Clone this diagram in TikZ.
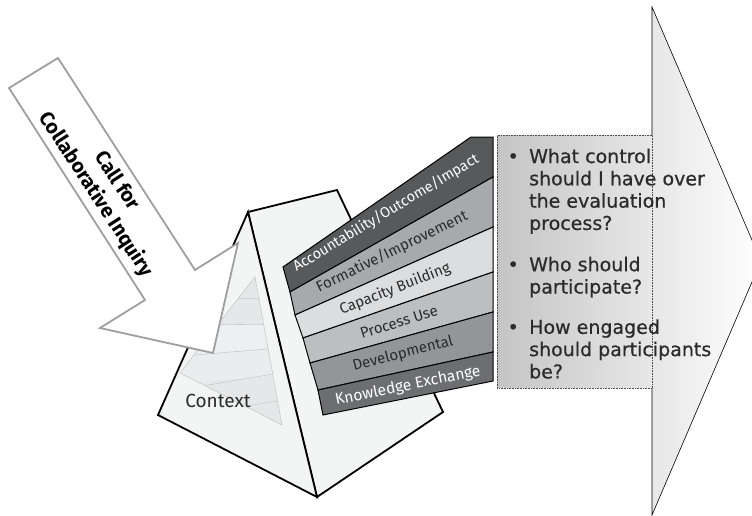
\documentclass[tikz,border=0pt]{standalone}
\usepackage{fontspec}
\setmainfont{Fira Sans}
\newfontfamily\qfont{DejaVu Sans}[FakeBold=0.6]
\usetikzlibrary{calc}
\definecolor{face}{HTML}{F3F4F4}
\definecolor{inner}{HTML}{E6E7E8}
\definecolor{innerlt}{HTML}{EEEFF0}
\definecolor{innerln}{HTML}{C9CACC}
\definecolor{callgray}{HTML}{9D9FA2}
\definecolor{sA}{HTML}{58595B}
\definecolor{sB}{HTML}{A7A9AC}
\definecolor{sC}{HTML}{DCDDDF}
\definecolor{sD}{HTML}{BCBEC0}
\definecolor{sE}{HTML}{939598}
\definecolor{sF}{HTML}{6D6E71}
\definecolor{txtdark}{HTML}{2B2B2B}
\begin{document}
\begin{tikzpicture}[x=1pt,y=-1pt,
  stripbox/.style={line width=1pt,draw=black,line join=miter},
  striptext/.style={font=\fontsize{15}{17}\selectfont,inner sep=0pt},
  pyr/.style={line width=1.8pt,draw=black,fill=face,line join=miter},
]
\useasboundingbox (0,0) rectangle (752,515);
\clip (0,0) rectangle (752,515);
\fill[white] (0,0) rectangle (752,515);

% ---------- big arrow ----------
\coordinate (ba1) at (497,135);
\coordinate (ba2) at (652,135);
\coordinate (ba3) at (652,7);
\coordinate (tip) at (761,261);
\coordinate (ba5) at (652,515);
\coordinate (ba6) at (652,388);
\coordinate (ba7) at (497,388);
\shade[left color=black!23,right color=white]
  (ba1) -- (ba2) -- (ba3) -- (tip) -- (ba5) -- (ba6) -- (ba7) -- cycle;
\draw[line width=0.6pt,black] (ba2) -- (ba3) -- (tip) -- (ba5) -- (ba6);
\node[draw=black!70,dash pattern=on 1pt off 0.6pt,line width=0.8pt,anchor=north west,
  inner sep=0pt,minimum width=155pt,minimum height=253pt] (shaft) at (ba1) {};
\node[anchor=base west,inner sep=0pt,text=txtdark,
  font=\qfont\fontsize{19}{22.3}\selectfont] (questions) at (506,163)
  {\begin{tabular}[t]{@{}l@{\hspace{9pt}}l@{}}
   \makebox[14pt][c]{\textbullet} & What control\\
   & should I have over\\
   & the evaluation\\
   & process?\\[19pt]
   \makebox[14pt][c]{\textbullet} & Who should\\
   & participate?\\[18pt]
   \makebox[14pt][c]{\textbullet} & How engaged\\
   & should participants\\
   & be?
   \end{tabular}};

% ---------- pyramid ----------
\coordinate (apex) at (248,212);
\coordinate (ptr) at (337,190);
\coordinate (pbr) at (443,412);
\coordinate (pbot) at (317,497);
\coordinate (pbl) at (158,415);
\draw[pyr] (apex) -- (ptr) -- (pbr) -- (pbot) -- cycle;
\draw[pyr] (apex) -- (pbot) -- (pbl) -- cycle;

% inner triangle of the left face
\coordinate (ia) at (255,277);
\coordinate (ib) at (180,373);
\coordinate (ic) at (282,425);
\begin{scope}
  \clip (ia) -- (ib) -- (ic) -- cycle;
  \fill[inner] (ia) -- (ib) -- (ic) -- cycle;
  \fill[innerlt] (160,325) -- (300,324) -- (300,349) -- (160,357) -- cycle;
  \fill[innerlt!60!inner] (160,357) -- (300,349) -- (300,374) -- (160,385) -- cycle;
  \draw[innerln,line width=0.6pt] (225,298) -- (270,299);
  \draw[innerln,line width=0.6pt] (200,325) -- (280,324);
  \draw[innerln,line width=0.6pt] (170,357) -- (280,348);
  \draw[innerln,line width=0.6pt] (190,388) -- (285,372);
  \draw[innerln,line width=0.6pt] (240,407) -- (290,399);
\end{scope}
\draw[innerln,line width=0.6pt] (ia) -- (ib) -- (ic) -- cycle;
\node[font=\fontsize{19}{22}\selectfont,text=txtdark,inner sep=0pt] (context) at (218,401) {Context};

% ---------- strips ----------
\coordinate (L0) at (283,267);
\coordinate (L1) at (290,292);
\coordinate (L2) at (295,315);
\coordinate (L3) at (303,338);
\coordinate (L4) at (310,363);
\coordinate (L5) at (318,390);
\coordinate (L6) at (323,415);
\coordinate (T0) at (471,137);
\coordinate (R0) at (493,137);
\coordinate (R1) at (493,177);
\coordinate (R2) at (493,227);
\coordinate (R3) at (493,272);
\coordinate (R4) at (493,312);
\coordinate (R5) at (493,352);
\coordinate (R6) at (493,381);
\filldraw[stripbox,fill=sA] (L0) -- (T0) -- (R0) -- (R1) -- (L1) -- cycle;
\filldraw[stripbox,fill=sB] (L1) -- (R1) -- (R2) -- (L2) -- cycle;
\filldraw[stripbox,fill=sC] (L2) -- (R2) -- (R3) -- (L3) -- cycle;
\filldraw[stripbox,fill=sD] (L3) -- (R3) -- (R4) -- (L4) -- cycle;
\filldraw[stripbox,fill=sE] (L4) -- (R4) -- (R5) -- (L5) -- cycle;
\filldraw[stripbox,fill=sF] (L5) -- (R5) -- (R6) -- (L6) -- cycle;
\node[striptext,font=\fontsize{14.6}{17}\selectfont,text=white,rotate=31] (accountability) at (386,213) {Accountability/Outcome/Impact};
\node[striptext,text=txtdark,rotate=26] (formative) at (392,252) {Formative/Improvement};
\node[striptext,text=txtdark,rotate=21.5] (capacity) at (395,289) {Capacity Building};
\node[striptext,text=txtdark,rotate=17.5] (process) at (399,322) {Process Use};
\node[striptext,text=txtdark,rotate=14] (developmental) at (403,354) {Developmental};
\node[striptext,font=\fontsize{15.6}{17}\selectfont,text=white,rotate=11.5] (knowledge) at (408,386) {Knowledge Exchange};

% ---------- call arrow ----------
\coordinate (c1) at (9,88);
\coordinate (c2) at (58,58);
\coordinate (c3) at (195,270);
\coordinate (c4) at (238,243);
\coordinate (ctip) at (213,353);
\coordinate (c6) at (100,328);
\coordinate (c7) at (145,300);
\filldraw[draw=callgray,fill=white,line width=1.8pt,line join=miter]
  (c1) -- (c2) -- (c3) -- (c4) -- (ctip) -- (c6) -- (c7) -- cycle;
\node[font=\bfseries\fontsize{20}{25}\selectfont,align=center,rotate=-57,
  inner sep=0pt,text=black] (call) at (106,188) {Call for\\Collaborative Inquiry};
\end{tikzpicture}
\end{document}
